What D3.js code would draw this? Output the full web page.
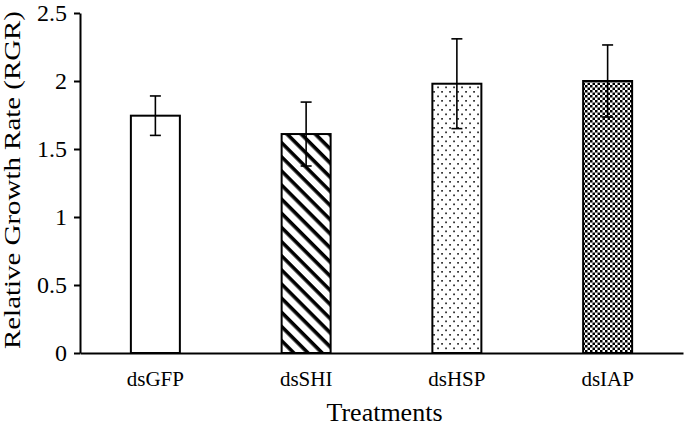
<!DOCTYPE html>
<html>
<head>
<meta charset="utf-8">
<script src="https://cdn.jsdelivr.net/npm/d3@7"></script>
<style>
  html, body { margin: 0; padding: 0; background: #fff; }
  svg { display: block; }
  text { font-family: "Liberation Serif", "Times New Roman", serif; fill: #000; }
</style>
</head>
<body>
<svg id="chart" width="685" height="428"></svg>
<script>
const categories = ["dsGFP", "dsSHI", "dsHSP", "dsIAP"];
const meanValues = [1.745, 1.61, 1.98, 2.0];
const errorValues = [0.145, 0.235, 0.33, 0.265];
const fillPatterns = ["none", "stripes", "dots", "checks"];
const yTicks = [0, 0.5, 1, 1.5, 2, 2.5];
const yTickLabels = ["0", "0.5", "1", "1.5", "2", "2.5"];
const xTitle = "Treatments";
const yTitle = "Relative Growth Rate (RGR)";

(function () {
const svg = d3.select("#chart");
const mLeft = 80, mRight = 683, mTop = 13, mBottom = 353;

const defs = svg.append("defs");
// diagonal stripes
const ps = defs.append("pattern").attr("id", "stripes").attr("patternUnits", "userSpaceOnUse")
  .attr("width", 10).attr("height", 10).attr("patternTransform", "rotate(45)");
ps.append("rect").attr("width", 10).attr("height", 10).attr("fill", "#fff");
ps.append("rect").attr("x", 0).attr("y", 0).attr("width", 10).attr("height", 3.6).attr("fill", "#000");
// dots
const pd = defs.append("pattern").attr("id", "dots").attr("patternUnits", "userSpaceOnUse")
  .attr("width", 8).attr("height", 9);
pd.append("rect").attr("width", 8).attr("height", 9).attr("fill", "#fff");
pd.append("rect").attr("x", 1.2).attr("y", 1).attr("width", 1.7).attr("height", 1.7).attr("fill", "#222");
pd.append("rect").attr("x", 5.2).attr("y", 5.5).attr("width", 1.7).attr("height", 1.7).attr("fill", "#222");
// checks
const pc = defs.append("pattern").attr("id", "checks").attr("patternUnits", "userSpaceOnUse")
  .attr("width", 5).attr("height", 5);
pc.append("rect").attr("width", 5).attr("height", 5).attr("fill", "#fff");
pc.append("rect").attr("x", 0).attr("y", 0).attr("width", 2.5).attr("height", 2.5).attr("fill", "#000");
pc.append("rect").attr("x", 2.5).attr("y", 2.5).attr("width", 2.5).attr("height", 2.5).attr("fill", "#000");

const x = d3.scaleBand().domain(categories).range([mLeft, mRight]).paddingInner(0.675).paddingOuter(0.3375);
const y = d3.scaleLinear().domain([0, 2.5]).range([mBottom, mTop]);

const data = categories.map((c, i) => ({ c, v: meanValues[i], e: errorValues[i], p: fillPatterns[i] }));

// bars
svg.append("g").selectAll("rect").data(data).join("rect")
  .attr("x", d => x(d.c)).attr("y", d => y(d.v))
  .attr("width", x.bandwidth()).attr("height", d => y(0) - y(d.v))
  .attr("fill", d => d.p === "none" ? "#fff" : `url(#${d.p})`)
  .attr("stroke", "#000").attr("stroke-width", 2);

// error bars
const eb = svg.append("g").attr("stroke", "#000").attr("stroke-width", 1.6);
data.forEach(d => {
  const cx = x(d.c) + x.bandwidth() / 2;
  eb.append("line").attr("x1", cx).attr("x2", cx).attr("y1", y(d.v + d.e)).attr("y2", y(d.v - d.e));
  eb.append("line").attr("x1", cx - 5.5).attr("x2", cx + 5.5).attr("y1", y(d.v + d.e)).attr("y2", y(d.v + d.e));
  eb.append("line").attr("x1", cx - 5.5).attr("x2", cx + 5.5).attr("y1", y(d.v - d.e)).attr("y2", y(d.v - d.e));
});

// y axis
const yAxis = svg.append("g").attr("transform", `translate(${mLeft},0)`)
  .call(d3.axisLeft(y).tickValues(yTicks).tickFormat((d, i) => yTickLabels[i]).tickSize(6).tickSizeOuter(0).tickPadding(7));
yAxis.select(".domain").attr("stroke", "#000").attr("stroke-width", 2);
yAxis.selectAll(".tick line").attr("stroke", "#000").attr("stroke-width", 2);
yAxis.selectAll(".tick text").attr("font-family", "Liberation Serif").attr("font-size", 24).attr("fill", "#000");

// x axis
const xAxis = svg.append("g").attr("transform", `translate(0,${mBottom})`)
  .call(d3.axisBottom(x).tickSize(0).tickSizeOuter(0).tickPadding(18));
xAxis.select(".domain").attr("stroke", "#000").attr("stroke-width", 2);
xAxis.selectAll(".tick text").attr("font-family", "Liberation Serif").attr("font-size", 21).attr("fill", "#000");

// titles
svg.append("text").attr("x", (mLeft + mRight) / 2 + 3).attr("y", 421)
  .attr("text-anchor", "middle").attr("font-size", 26).text(xTitle);
svg.append("text").attr("transform", `translate(20,${180}) rotate(-90)`)
  .attr("text-anchor", "middle").attr("font-size", 23)
  .attr("textLength", 338).attr("lengthAdjust", "spacingAndGlyphs").text(yTitle);
})();
</script>
</body>
</html>
